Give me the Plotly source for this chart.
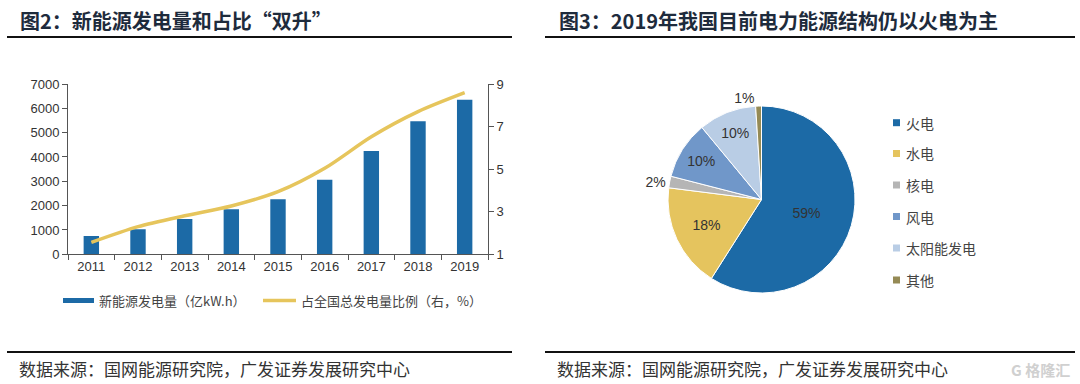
import plotly.graph_objects as go

years = ["2011", "2012", "2013", "2014", "2015", "2016", "2017", "2018", "2019"]
new_energy_gen = [750, 1030, 1450, 1850, 2260, 3060, 4250, 5470, 6350]
share_pct = [1.56, 2.30, 2.81, 3.27, 3.94, 5.04, 6.52, 7.70, 8.59]
left_ticks = [0, 1000, 2000, 3000, 4000, 5000, 6000, 7000]
right_ticks = [1, 3, 5, 7, 9]

pie_labels = ["火电", "水电", "核电", "风电", "太阳能发电", "其他"]
pie_values = [59, 18, 2, 10, 10, 1]
pie_colors = ["#1C6AA6", "#E5C45E", "#B5B5B5", "#7097C9", "#B9CDE5", "#958A55"]

BLUE = "#1C6AA6"
GOLD = "#E6C55C"
CJK = "Noto Sans CJK SC"
W, H = 1080, 384

def px(x):
    return x / W

def py(y):
    return 1 - y / H

fig = go.Figure()

fig.add_trace(go.Bar(
    x=years, y=new_energy_gen, marker=dict(color=BLUE, line=dict(width=0)),
    width=0.33, name="新能源发电量（亿kW.h）", showlegend=False,
    xaxis="x", yaxis="y",
))
fig.add_trace(go.Scatter(
    x=years, y=share_pct, mode="lines", line=dict(color=GOLD, width=3.5, shape="spline", smoothing=0.8),
    name="占全国总发电量比例（右，%）", showlegend=False,
    xaxis="x", yaxis="y2",
))

fig.add_trace(go.Pie(
    labels=pie_labels, values=pie_values, sort=False, direction="clockwise", rotation=0,
    marker=dict(colors=pie_colors, line=dict(color="white", width=1)),
    texttemplate="%{value}%", textinfo="text",
    textposition=["inside", "inside", "outside", "inside", "inside", "outside"],
    insidetextorientation="horizontal",
    textfont=dict(family="Arial, Liberation Sans", size=14, color="#333333"),
    domain=dict(x=[px(668), px(855)], y=[py(293), py(106)]),
    showlegend=False, hoverinfo="label+percent",
))

x_dom = [px(68), px(488)]
y_dom = [py(254.3), py(84)]

fig.update_layout(
    width=W, height=H,
    margin=dict(l=0, r=0, t=0, b=0, autoexpand=False),
    paper_bgcolor="white", plot_bgcolor="white",
    font=dict(family="Arial, Liberation Sans", color="#333333", size=12),
    xaxis=dict(domain=x_dom, type="category", showline=True, linecolor="#555555", linewidth=1,
               ticks="outside", tickson="boundaries", ticklen=5, tickcolor="#555555",
               showgrid=False, tickfont=dict(size=13, color="#333333"), anchor="y"),
    yaxis=dict(domain=y_dom, range=[0, 7000], tickvals=left_ticks, showline=True, linecolor="#555555",
               ticks="outside", ticklen=5, tickcolor="#555555", showgrid=False, zeroline=False,
               tickfont=dict(size=13, color="#333333"), anchor="x"),
    yaxis2=dict(domain=y_dom, range=[1, 9], tickvals=right_ticks, overlaying="y", side="right",
                showline=True, linecolor="#555555", ticks="outside", ticklen=5, tickcolor="#555555",
                showgrid=False, zeroline=False, tickfont=dict(size=13, color="#333333"), anchor="x"),
    showlegend=False,
)

shapes = []
annotations = []

# titles and rules
annotations.append(dict(x=px(18), y=py(20), xref="paper", yref="paper", xanchor="left", yanchor="middle",
                        text="<b>图2：新能源发电量和占比“双升”</b>", showarrow=False,
                        font=dict(family=CJK, size=20, color="#1E2B3C")))
annotations.append(dict(x=px(557), y=py(20), xref="paper", yref="paper", xanchor="left", yanchor="middle",
                        text="<b>图3：2019年我国目前电力能源结构仍以火电为主</b>", showarrow=False,
                        font=dict(family=CJK, size=20, color="#1E2B3C")))
for x0, x1 in [(7, 512), (545, 1075)]:
    shapes.append(dict(type="line", xref="paper", yref="paper", x0=px(x0), x1=px(x1), y0=py(37), y1=py(37),
                       line=dict(color="#111111", width=2)))
    shapes.append(dict(type="line", xref="paper", yref="paper", x0=px(x0), x1=px(x1), y0=py(352), y1=py(352),
                       line=dict(color="#111111", width=2)))

# footers
for xs in (17, 555):
    annotations.append(dict(x=px(xs), y=py(368), xref="paper", yref="paper", xanchor="left", yanchor="middle",
                            text="数据来源：国网能源研究院，广发证券发展研究中心", showarrow=False,
                            font=dict(family=CJK, size=17, color="#333333")))
annotations.append(dict(x=px(1072), y=py(369), xref="paper", yref="paper", xanchor="right", yanchor="middle",
                        text="<b>G 格隆汇</b>", showarrow=False,
                        font=dict(family=CJK, size=15, color="#D0D0D0")))

# left chart legend
shapes.append(dict(type="rect", xref="paper", yref="paper", x0=px(63), x1=px(94), y0=py(298), y1=py(303),
                   fillcolor=BLUE, line=dict(width=0)))
annotations.append(dict(x=px(97), y=py(300), xref="paper", yref="paper", xanchor="left", yanchor="middle",
                        text="新能源发电量（亿kW.h）", showarrow=False,
                        font=dict(family=CJK, size=13, color="#444444")))
shapes.append(dict(type="line", xref="paper", yref="paper", x0=px(263), x1=px(296), y0=py(300.5), y1=py(300.5),
                   line=dict(color=GOLD, width=3.5)))
annotations.append(dict(x=px(299), y=py(300), xref="paper", yref="paper", xanchor="left", yanchor="middle",
                        text="占全国总发电量比例（右，%）", showarrow=False,
                        font=dict(family=CJK, size=13, color="#444444")))

# pie legend
leg_y = [122.7, 153.5, 185, 216.5, 248, 280]
for lab, col, yy in zip(pie_labels, pie_colors, leg_y):
    shapes.append(dict(type="rect", xref="paper", yref="paper", x0=px(893), x1=px(900),
                       y0=py(yy + 3.5), y1=py(yy - 3.5), fillcolor=col, line=dict(width=0)))
    annotations.append(dict(x=px(904), y=py(yy), xref="paper", yref="paper", xanchor="left", yanchor="middle",
                            text=lab, showarrow=False, font=dict(family=CJK, size=14, color="#444444")))

fig.update_layout(shapes=shapes, annotations=annotations)

fig.write_html(
    "out.html",
    config={"displayModeBar": False},
    post_script="document.body.style.margin='0';document.body.style.padding='0';document.body.style.overflow='hidden';",
)
